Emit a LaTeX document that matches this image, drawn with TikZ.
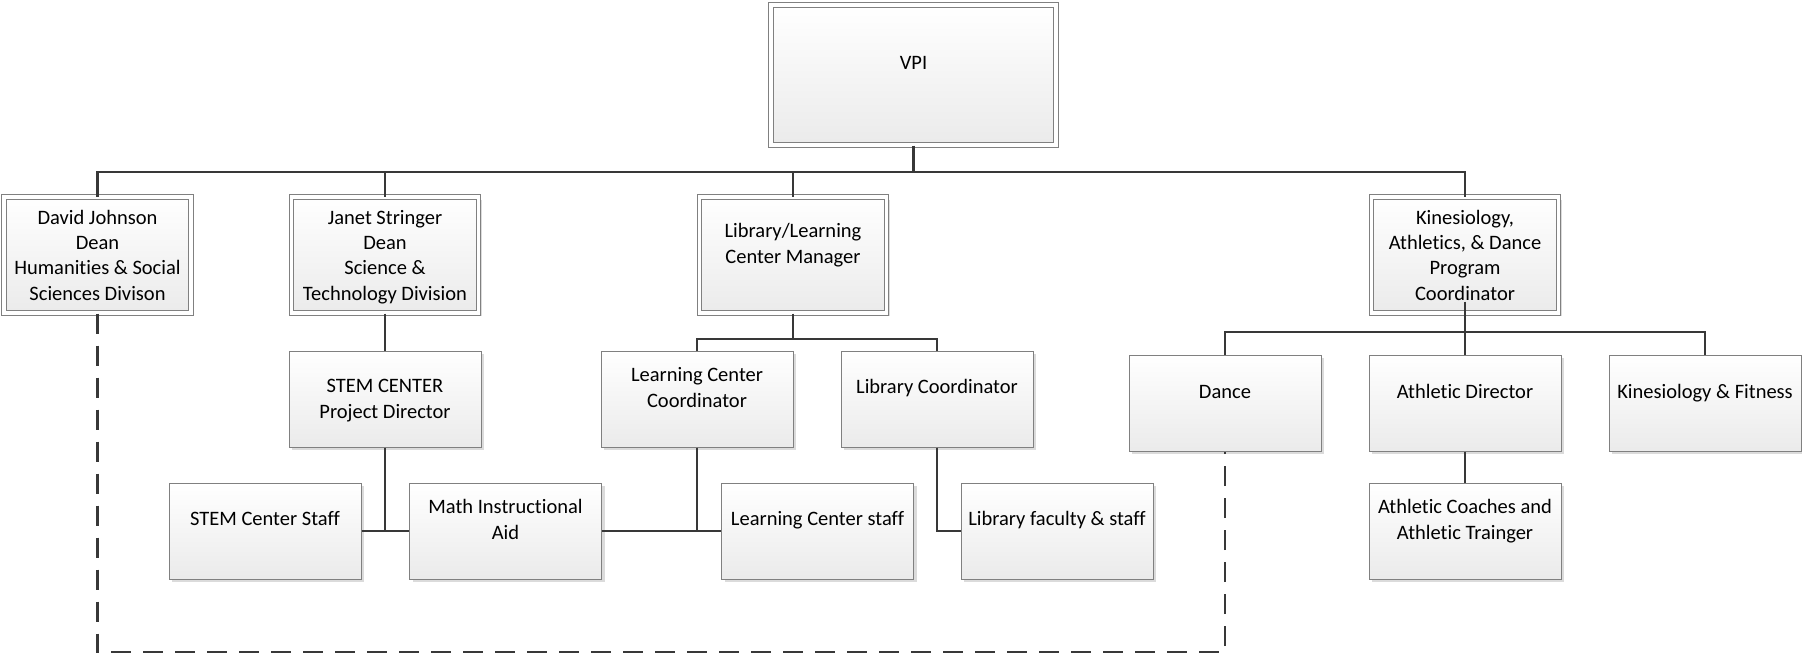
\documentclass[tikz,border=0pt]{standalone}
\usepackage{fontspec}
\setmainfont{Carlito}[Ligatures={NoCommon}]
\usetikzlibrary{shadows}
\begin{document}
\begin{tikzpicture}[x=0.5pt,y=-0.5pt]
\tikzset{
 box/.style={draw=black!50, line width=0.5pt, top color=white, bottom color=black!8,
   drop shadow={shadow xshift=1.5pt,shadow yshift=-1.5pt,fill=black!14,opacity=1},
   minimum width=96pt, minimum height=48pt, inner sep=0pt},
 dbox/.style={box, double=white, double distance=1.6pt, minimum width=93.5pt, minimum height=58pt},
 txt/.style={font=\fontsize{10.25pt}{12.65pt}\selectfont, align=center, inner sep=0pt, anchor=base},
 conn/.style={draw=black!78, line width=1.45pt},
 dconn/.style={draw=black!78, line width=1.2pt, dash pattern=on 10pt off 6pt}
}
\useasboundingbox (0,0) rectangle (1802,658);
% top
\node[dbox, minimum width=142.5pt, minimum height=70pt] (vpi) at (913.5,75) {};
\node[dbox] (david) at (97.5,255) {};
\node[dbox] (janet) at (385,255) {};
\node[dbox] (mgr) at (793,255) {};
\node[dbox] (kin) at (1465,255) {};
% second row
\node[box] (stem) at (385,399) {};
\node[box] (lcc) at (697,399) {};
\node[box] (libc) at (937,399) {};
\node[box] (dance) at (1225,403) {};
\node[box] (ad) at (1465,403) {};
\node[box] (kf) at (1705,403) {};
% third row
\node[box] (sstaff) at (265,531) {};
\node[box] (math) at (505.5,531) {};
\node[box] (lcstaff) at (817.5,531) {};
\node[box] (libfac) at (1057,531) {};
\node[box] (coach) at (1465,531) {};
% texts (base = baseline of last line)
\node[txt] (vpi-t) at (913.5,70) {VPI};
\node[txt] (david-t) at (97.5,300) {David Johnson\\Dean\\Humanities \& Social\\Sciences Divison};
\node[txt] (janet-t) at (385,300) {Janet Stringer\\Dean\\Science \&\\Technology Division};
\node[txt] (mgr-t) at (793,263) {Library/Learning\\Center Manager};
\node[txt] (kin-t) at (1465,300) {Kinesiology,\\Athletics, \& Dance\\Program\\Coordinator};
\node[txt] (stem-t) at (385,418) {STEM CENTER\\Project Director};
\node[txt] (lcc-t) at (697,407) {Learning Center\\Coordinator};
\node[txt] (libc-t) at (937,393) {Library Coordinator};
\node[txt] (dance-t) at (1225,398) {Dance};
\node[txt] (ad-t) at (1465,398) {Athletic Director};
\node[txt] (kf-t) at (1705,398) {Kinesiology \& Fitness};
\node[txt] (sstaff-t) at (265,525) {STEM Center Staff};
\node[txt] (math-t) at (505.5,539) {Math Instructional\\Aid};
\node[txt] (lcstaff-t) at (817.5,525) {Learning Center staff};
\node[txt] (libfac-t) at (1057,525) {Library faculty \& staff};
\node[txt] (coach-t) at (1465,539) {Athletic Coaches and\\Athletic Trainger};
% bus coordinates
\coordinate (bus1) at (913.5,172);
\coordinate (bus2) at (793,339);
\coordinate (bus3) at (1465,332);
\coordinate (dash) at (97.5,652);
% connectors
\draw[conn] (vpi.south) -- (bus1);
\draw[conn] (david.north) -- (david.north |- bus1) -- (kin.north |- bus1) -- (kin.north);
\draw[conn] (janet.north) -- (janet.north |- bus1);
\draw[conn] (mgr.north) -- (mgr.north |- bus1);
\draw[conn] (janet.south) -- (stem.north);
\draw[conn] (stem.south) -- (stem.south |- sstaff.east);
\draw[conn] (sstaff.east) -- (math.west);
\draw[conn] (math.east) -- (lcstaff.west);
\draw[conn] (mgr.south) -- (bus2);
\draw[conn] (lcc.north) -- (lcc.north |- bus2) -- (libc.north |- bus2) -- (libc.north);
\draw[conn] (lcc.south) -- (lcc.south |- lcstaff.west);
\draw[conn] (libc.south) |- (libfac.west);
\draw[conn] ([yshift=6pt]kin.south) -- (ad.north);
\draw[conn] (dance.north) -- (dance.north |- bus3) -- (kf.north |- bus3) -- (kf.north);
\draw[conn] (ad.south) -- (coach.north);
\draw[dconn] (david.south) -- (dash) -- (dance.south |- dash) -- (dance.south);
\end{tikzpicture}
\end{document}
